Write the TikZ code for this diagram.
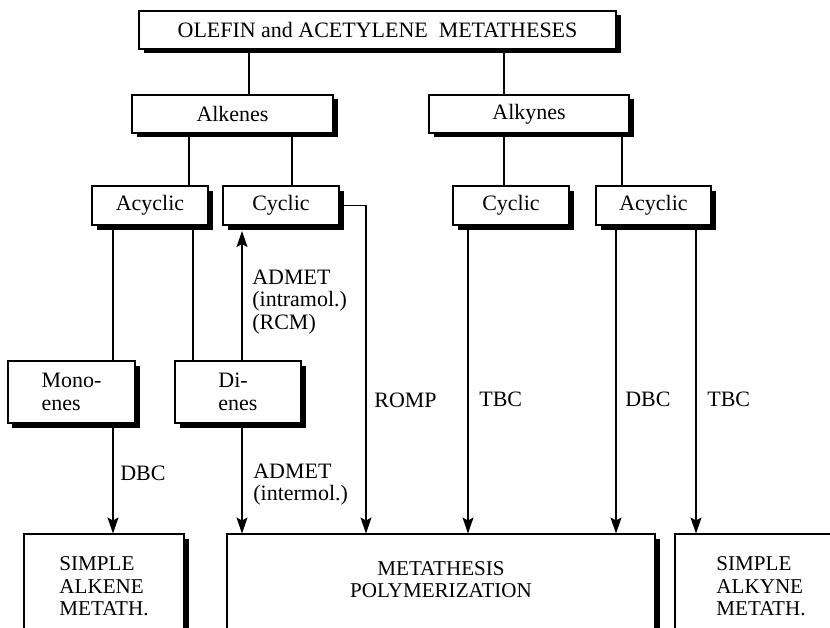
\documentclass[tikz,border=0pt]{standalone}
\usepackage{fontspec}
\setmainfont{Liberation Serif}
\usetikzlibrary{positioning, arrows.meta, shadows}

\begin{document}
\begin{tikzpicture}[
    box/.style={draw, fill=white, line width=0.6pt, inner sep=0pt, align=center,
        font=\fontsize{12.5}{12.8}\selectfont,
        drop shadow={shadow xshift=0.09cm, shadow yshift=-0.09cm, opacity=1, fill=black}},
    bigbox/.style={box, minimum height=2.1cm, font=\fontsize{12}{12.8}\selectfont},
    lab/.style={inner sep=0pt, anchor=west, align=left, font=\fontsize{12.5}{12.8}\selectfont},
    line/.style={line width=0.6pt},
    arrow/.style={line, -{Stealth[length=3.2mm, width=2.2mm, inset=0.6mm]}}
]
    \useasboundingbox (0,0) rectangle (16.6,-12.56);
    \clip (0,0) rectangle (16.6,-12.56);

    % Boxes
    \node[box, minimum width=9.54cm, minimum height=0.76cm] (title) at (7.55,-0.60)
        {OLEFIN and ACETYLENE\ \ METATHESES};
    \node[box, minimum width=4.02cm, minimum height=0.76cm] (alkenes) at (4.65,-2.28) {Alkenes};
    \node[box, minimum width=4.0cm, minimum height=0.76cm] (alkynes) at (10.58,-2.28) {Alkynes};

    \node[box, minimum width=2.32cm, minimum height=0.78cm] (acycA) at (3.0,-4.11) {Acyclic};
    \node[box, minimum width=2.32cm, minimum height=0.78cm] (cycA) at (5.62,-4.11) {Cyclic};
    \node[box, minimum width=2.32cm, minimum height=0.78cm] (cycB) at (10.22,-4.11) {Cyclic};
    \node[box, minimum width=2.3cm, minimum height=0.78cm] (acycB) at (13.07,-4.11) {Acyclic};

    \node[box, align=left, minimum width=2.54cm, minimum height=1.24cm] (mono) at (1.43,-7.84) {Mono-\\enes};
    \node[box, align=left, minimum width=2.52cm, minimum height=1.24cm] (di) at (4.76,-7.84) {Di-\\enes};

    \node[bigbox, align=left, minimum width=3.2cm] (simpleene) at (2.08,-11.73) {SIMPLE\\ALKENE\\METATH.};
    \node[bigbox, minimum width=8.56cm] (polym) at (8.82,-11.73) {};
    \node[align=center, font=\fontsize{12}{12.8}\selectfont] (polymtext) at ([yshift=0.14cm]polym.center)
        {METATHESIS\\POLYMERIZATION};
    \node[bigbox, align=left, minimum width=3.44cm] (simpleyne) at (15.22,-11.73) {SIMPLE\\ALKYNE\\METATH.};

    % Tree lines
    \draw[line] (title.south -| 4.98,0) -- (alkenes.north -| 4.98,0);
    \draw[line] (title.south -| 10.08,0) -- (alkynes.north -| 10.08,0);
    \draw[line] (alkenes.south -| 3.78,0) -- (acycA.north -| 3.78,0);
    \draw[line] (alkenes.south -| 5.84,0) -- (cycA.north -| 5.84,0);
    \draw[line] (alkynes.south -| 10.08,0) -- (cycB.north -| 10.08,0);
    \draw[line] (alkynes.south -| 12.44,0) -- (acycB.north -| 12.44,0);
    \draw[line] (acycA.south -| 2.26,0) -- (mono.north -| 2.26,0);
    \draw[line] (acycA.south -| 3.86,0) -- (di.north -| 3.86,0);

    % Reactions
    \draw[arrow, shorten >=0.11cm] (di.north -| 4.84,0) -- (cycA.south -| 4.84,0);
    \draw[arrow] (mono.south -| 2.26,0) -- (simpleene.north -| 2.26,0);
    \draw[arrow] (di.south -| 4.84,0) -- (polym.north -| 4.84,0);
    \draw[arrow] (cycA.east) -| (polym.north -| 7.32,0);
    \draw[arrow] (cycB.south -| 9.36,0) -- (polym.north -| 9.36,0);
    \draw[arrow] (acycB.south -| 12.32,0) -- (polym.north -| 12.32,0);
    \draw[arrow] (acycB.south -| 13.92,0) -- (simpleyne.north -| 13.92,0);

    % Labels
    \node[lab] (rcm) at (5.04,-6.04) {ADMET\\(intramol.)\\(RCM)};
    \node[lab] (dbcA) at (2.40,-9.46) {DBC};
    \node[lab] (admet) at (5.06,-9.69) {ADMET\\(intermol.)};
    \node[lab] (romp) at (7.48,-8.0) {ROMP};
    \node[lab] (tbcA) at (9.58,-7.98) {TBC};
    \node[lab] (dbcB) at (12.5,-7.98) {DBC};
    \node[lab] (tbcB) at (14.14,-7.98) {TBC};

\end{tikzpicture}
\end{document}
